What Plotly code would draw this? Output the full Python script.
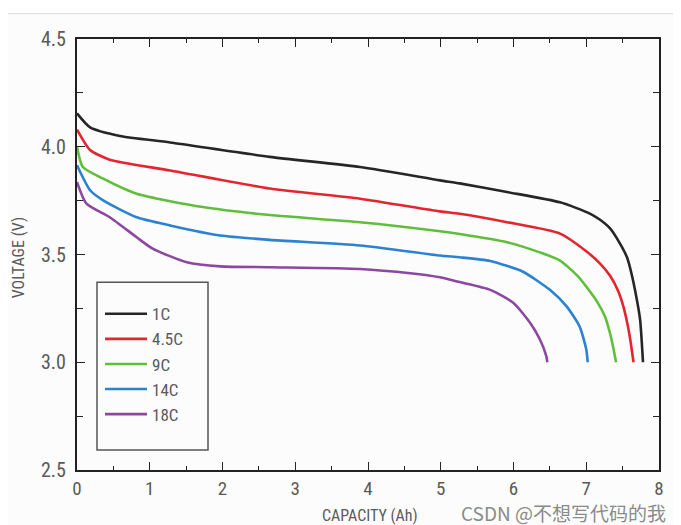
import plotly.graph_objects as go

# ---- data ----
series_names = ["1C", "4.5C", "9C", "14C", "18C"]
series_colors = ["#262626", "#e2262f", "#5fbf3b", "#2b82d3", "#8c47a1"]

cap_1c = [0, 0.18, 0.59, 1.28, 2.65, 3.89, 4.99, 5.26, 5.91, 6.64, 7.05, 7.19, 7.33, 7.46, 7.56, 7.62, 7.69, 7.74, 7.78]
v_1c = [4.155, 4.09, 4.05, 4.02, 3.953, 3.906, 3.844, 3.83, 3.79, 3.742, 3.69, 3.661, 3.62, 3.553, 3.487, 3.414, 3.30, 3.198, 3.0]

cap_45c = [0, 0.18, 0.45, 1.28, 2.65, 3.89, 4.99, 5.26, 5.91, 6.64, 7.0, 7.19, 7.33, 7.44, 7.51, 7.59, 7.65]
v_45c = [4.08, 3.985, 3.94, 3.89, 3.806, 3.759, 3.70, 3.689, 3.65, 3.597, 3.515, 3.458, 3.40, 3.33, 3.259, 3.136, 3.0]

cap_9c = [0, 0.08, 0.36, 0.82, 1.73, 2.65, 3.89, 4.99, 5.26, 5.91, 6.36, 6.64, 6.89, 7.14, 7.26, 7.33, 7.37, 7.41]
v_9c = [4.0, 3.906, 3.852, 3.782, 3.72, 3.683, 3.65, 3.608, 3.595, 3.557, 3.51, 3.472, 3.397, 3.286, 3.21, 3.13, 3.07, 3.0]

cap_14c = [0, 0.18, 0.36, 0.82, 1.28, 1.97, 2.65, 3.89, 4.99, 5.26, 5.68, 6.13, 6.50, 6.73, 6.91, 7.0, 7.02]
v_14c = [3.914, 3.798, 3.751, 3.673, 3.635, 3.588, 3.568, 3.542, 3.495, 3.487, 3.470, 3.420, 3.336, 3.259, 3.165, 3.06, 3.0]

cap_18c = [0, 0.13, 0.45, 0.82, 1.04, 1.51, 1.97, 2.65, 3.89, 4.58, 4.99, 5.26, 5.68, 6.0, 6.23, 6.36, 6.45, 6.465]
v_18c = [3.836, 3.736, 3.673, 3.58, 3.527, 3.464, 3.445, 3.441, 3.433, 3.413, 3.394, 3.372, 3.336, 3.275, 3.182, 3.108, 3.03, 3.0]

x_ticks = [0, 1, 2, 3, 4, 5, 6, 7, 8]
y_ticks = [2.5, 3.0, 3.5, 4.0, 4.5]

all_cap = [cap_1c, cap_45c, cap_9c, cap_14c, cap_18c]
all_v = [v_1c, v_45c, v_9c, v_14c, v_18c]

BG = "#fcfcfc"
AX = "#222222"
LBL = "#5a5a5a"
NARROW = "Liberation Sans Narrow, Arial Narrow, Roboto Condensed, sans-serif"

# page offset of the figure inside the browser (body margin)
OFF = 8
PL, PT, PR, PB = 77, 38.5, 659, 470   # plot frame in page pixels
PW, PH = PR - PL, PB - PT

def px(x):
    return (x - PL) / PW

def py(y):
    return (PB - y) / PH

fig = go.Figure()
for name, color, xs, ys in zip(series_names, series_colors, all_cap, all_v):
    fig.add_trace(go.Scatter(
        x=xs, y=ys, mode="lines", name=name, legendgroup=name,
        line=dict(color=color, width=2.6, shape="spline", smoothing=0.6),
        hoverinfo="skip",
    ))

axis_common = dict(
    showline=True, linecolor=AX, linewidth=2, mirror="allticks",
    ticks="inside", ticklen=8, tickwidth=1.2, tickcolor=AX,
    showgrid=False, zeroline=False,
)

fig.update_xaxes(
    range=[0, 8], tickvals=x_ticks, ticklabelstandoff=0,
    tickfont=dict(family=NARROW, size=19, color=LBL),
    minor=dict(dtick=0.5, ticks="inside", ticklen=4, tickwidth=1.2, tickcolor=AX, showgrid=False),
    **axis_common,
)
fig.update_yaxes(
    range=[2.5, 4.5], tickvals=y_ticks, tickformat=".1f", ticklabelstandoff=5,
    tickfont=dict(family=NARROW, size=20, color=LBL),
    minor=dict(dtick=0.25, ticks="inside", ticklen=6, tickwidth=1.2, tickcolor=AX, showgrid=False),
    **axis_common,
)

W, H = 681 - OFF, 525 - OFF
fig.update_layout(
    width=W, height=H,
    margin=dict(l=PL - OFF, r=W + OFF - PR, t=PT - OFF, b=H + OFF - PB),
    paper_bgcolor=BG, plot_bgcolor=BG,
    showlegend=True,
    legend=dict(
        x=px(100), y=py(296), xanchor="left", yanchor="top",
        bgcolor="rgba(0,0,0,0)", borderwidth=0,
        font=dict(family=NARROW, size=17, color=LBL),
        itemwidth=42, tracegroupgap=0,
    ),
    shapes=[
        # legend frame
        dict(type="rect", xref="paper", yref="paper",
             x0=px(97), x1=px(208), y0=py(450), y1=py(282),
             line=dict(color="#555555", width=1.5), fillcolor="rgba(0,0,0,0)", layer="above"),
        # page top band
        dict(type="rect", xref="paper", yref="paper",
             x0=px(0), x1=px(681), y0=py(13), y1=py(OFF),
             line=dict(width=0), fillcolor="#ffffff", layer="below"),
        dict(type="line", xref="paper", yref="paper",
             x0=px(0), x1=px(681), y0=py(13), y1=py(13),
             line=dict(color="#e2e2e2", width=1.2)),
    ],
    annotations=[
        dict(text="VOLTAGE (V)", textangle=-90, xref="paper", yref="paper",
             x=px(18), y=py(258), xanchor="center", yanchor="middle",
             showarrow=False, font=dict(family=NARROW, size=16, color=LBL)),
        dict(text="CAPACITY (Ah)", xref="paper", yref="paper",
             x=px(370), y=py(516), xanchor="center", yanchor="middle",
             showarrow=False, font=dict(family=NARROW, size=16, color=LBL)),
        dict(text="CSDN @不想写代码的我", xref="paper", yref="paper",
             x=px(459), y=py(513), xanchor="left", yanchor="middle",
             showarrow=False, font=dict(family="Noto Sans CJK SC", size=19, color="#8a8a8a")),
    ],
)

fig.write_html("out.html")
